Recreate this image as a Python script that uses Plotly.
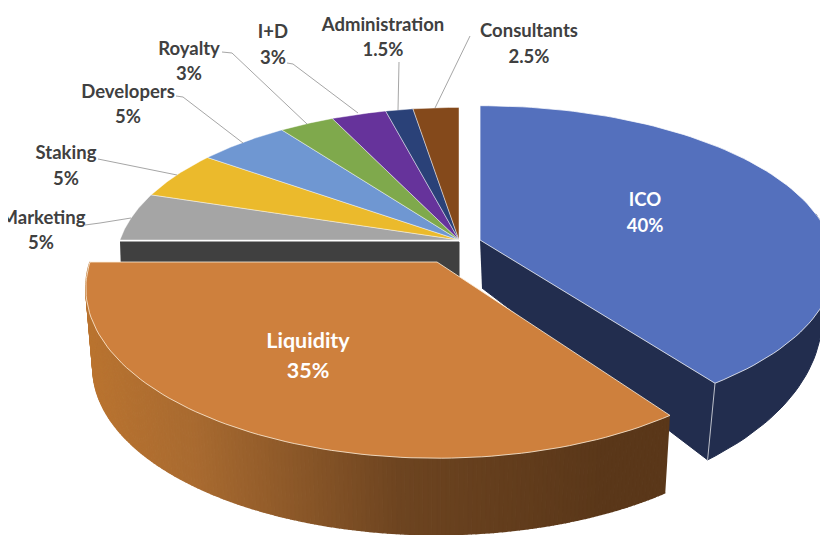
import numpy as np
import plotly.graph_objects as go

categories = ["ICO", "Liquidity", "Marketing", "Staking", "Developers", "Royalty", "I+D", "Administration", "Consultants"]
shares = [40, 35, 5, 5, 5, 3, 3, 1.5, 2.5]
colors = ["#5470BD", "#CE803D", "#A5A5A5", "#EBBA2C", "#6F97D2", "#7FA94C", "#66339B", "#2A4178", "#84491B"]

# name position, percent position (px of the 820x535 picture)
label_xy = {
    "ICO": ((645, 201), (645, 227)),
    "Liquidity": ((308, 343), (308, 373)),
    "Marketing": ((43, 219), (41, 244)),
    "Staking": ((66, 154), (66, 180)),
    "Developers": ((128, 93), (128, 118)),
    "Royalty": ((189, 50), (189, 75)),
    "I+D": ((273, 33), (273, 59)),
    "Administration": ((383, 26), (383, 51)),
    "Consultants": ((529, 32), (529, 58)),
}
leaders = {
    "Marketing": ([85, 100, 131], [225, 223, 218]),
    "Staking": ([98, 177], [159, 175]),
    "Developers": ([176, 183, 243], [96, 97, 143]),
    "Royalty": ([222, 232, 307], [52, 53, 124]),
    "I+D": ([287, 293, 358], [63, 64, 113]),
    "Administration": ([399, 398], [62, 110]),
    "Consultants": ([470, 435], [36, 108]),
}

P = 0.154
EDGE = "rgba(255,255,255,0.75)"


def rim(c, A, B, deg):
    t = np.radians(np.asarray(deg, dtype=float))
    X, Y = np.sin(t), np.cos(t)
    w = 1 + P * Y
    return c[0] + A * X / w, c[1] - B * Y / w


def poly(fig, xs, ys, fill, line=None, width=1.0):
    fig.add_trace(go.Scatter(
        x=list(xs), y=list(ys), mode="lines", fill="toself", fillcolor=fill,
        line=dict(color=line or fill, width=width), hoverinfo="skip", showlegend=False))


def wedge(c, A, B, a0, a1):
    d = np.linspace(a0, a1, 90)
    x, y = rim(c, A, B, d)
    return [c[0], *x, c[0]], [c[1], *y, c[1]]


def lerp_color(x):
    stops_x = [90, 200, 400, 600]
    r = np.interp(x, stops_x, [186, 168, 109, 90])
    g = np.interp(x, stops_x, [116, 106, 68, 55])
    b = np.interp(x, stops_x, [48, 48, 32, 25])
    return f"rgb({r:.0f},{g:.0f},{b:.0f})"


fig = go.Figure()

total = sum(shares)
angles = np.cumsum([0] + shares) / total * 360

# --- the seven slices that stay in the centre
c_rest = (459, 240)
for i in range(2, len(shares)):
    x, y = wedge(c_rest, 339, 153, angles[i], angles[i + 1])
    poly(fig, x, y, colors[i], "rgba(255,255,255,0.55)", 0.8)
poly(fig, [120, 459, 459, 122], [242, 242, 300, 300], "#404040")

# --- ICO: walls then top
c_ico, c_ico_b = (480, 240), (482, 288)
a0, a1 = angles[0], angles[1]
ex, ey = rim(c_ico, 350, 155, a1)
bx, by = rim(c_ico_b, 336, 186, a1)
poly(fig, [c_ico[0], ex, bx, c_ico_b[0]], [c_ico[1], ey, by, c_ico_b[1]], "#222D4E")
d = np.linspace(80, a1, 40)
tx, ty = rim(c_ico, 350, 155, d)
ux, uy = rim(c_ico_b, 336, 186, d)
poly(fig, [*tx, *ux[::-1]], [*ty, *uy[::-1]], "#222D4E")
x, y = wedge(c_ico, 350, 155, a0, a1)
poly(fig, x, y, colors[0], EDGE, 1.0)
fig.add_trace(go.Scatter(x=[ex, bx], y=[ey, by], mode="lines",
                         line=dict(color="rgba(255,255,255,0.7)", width=1),
                         hoverinfo="skip", showlegend=False))

# --- Liquidity: shaded wall then top
c_liq, c_liq_b = (437, 262), (437, 342)
b0, b1 = angles[1], angles[2]
steps = np.linspace(b0, b1, 200)
for s0, s1 in zip(steps[:-1], steps[1:]):
    tx, ty = rim(c_liq, 347, 166, [s0, s1])
    ux, uy = rim(c_liq_b, 340, 163, [s0, s1])
    poly(fig, [tx[0], tx[1], ux[1], ux[0]], [ty[0], ty[1], uy[1], uy[0]], lerp_color((ux[0] + ux[1]) / 2), None, 1.5)
x, y = wedge(c_liq, 347, 166, b0, b1)
poly(fig, x, y, colors[1], "rgba(255,240,220,0.8)", 1.0)

# --- leader lines
for name, (lx, ly) in leaders.items():
    fig.add_trace(go.Scatter(x=lx, y=ly, mode="lines", line=dict(color="#A6A6A6", width=1),
                             hoverinfo="skip", showlegend=False))

# --- labels
for name, share in zip(categories, shares):
    (nx, ny), (px, py) = label_xy[name]
    inner = name in ("ICO", "Liquidity")
    size = 21.5 if name == "Liquidity" else 18.5
    color = "#FFFFFF" if inner else "#404040"
    fig.add_trace(go.Scatter(
        x=[nx, px], y=[ny, py], mode="text", text=[name, f"{share:g}%"],
        textposition="middle center", cliponaxis=True,
        textfont=dict(family="Lato", size=size, color=color, weight="bold"),
        hoverinfo="skip", showlegend=False))

fig.update_layout(
    width=820, height=535, margin=dict(l=8, r=0, t=0, b=0),
    paper_bgcolor="white", plot_bgcolor="white", showlegend=False,
    xaxis=dict(range=[8, 820], visible=False, fixedrange=True),
    yaxis=dict(range=[535, 0], visible=False, fixedrange=True),
)
fig.write_html("out.html", config={"displayModeBar": False},
               post_script="document.body.style.margin='0';document.body.style.overflow='hidden';")
